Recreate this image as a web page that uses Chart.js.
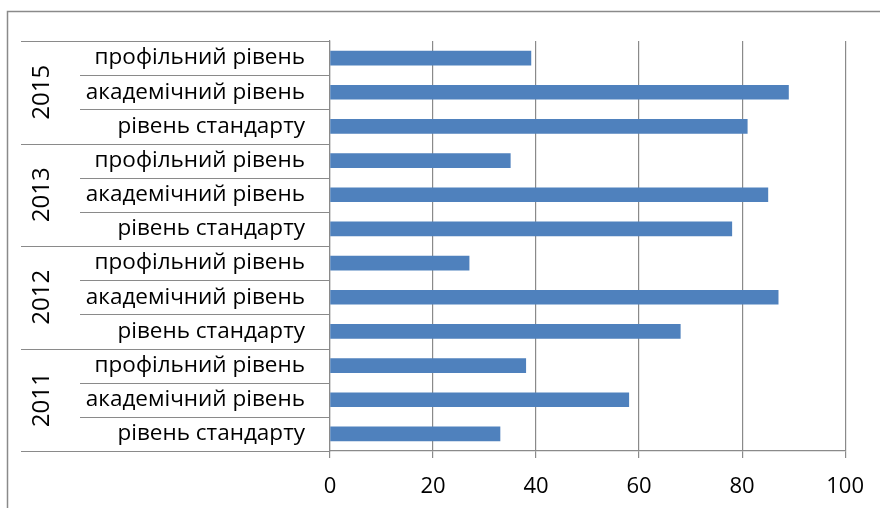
<!DOCTYPE html>
<html>
<head>
<meta charset="utf-8">
<script src="https://cdn.jsdelivr.net/npm/chart.js@4/dist/chart.umd.min.js"></script>
<style>
  html, body { margin: 0; padding: 0; background: #fff; }
  #wrap { width: 880px; height: 508px; }
</style>
</head>
<body>
<div id="wrap"><canvas id="c" width="880" height="508"></canvas></div>
<script>
// Years (groups) and levels within each year, bottom to top
const years = ['2011', '2012', '2013', '2015'];
const levels = ['рівень стандарту', 'академічний рівень', 'профільний рівень'];

// Values per year, in the same order as `levels`
const values2011 = [33, 58, 38];
const values2012 = [68, 87, 27];
const values2013 = [78, 85, 35];
const values2015 = [81, 89, 39];

const xTicks = [0, 20, 40, 60, 80, 100];

const valuesByYear = [values2011, values2012, values2013, values2015];
const labels = [];
const data = [];
years.forEach((y, yi) => {
  levels.forEach((lv, li) => {
    labels.push(lv);
    data.push(valuesByYear[yi][li]);
  });
});

const FONT = "'Open Sans', sans-serif";
const GRID = '#8a8a8a';

// Draws the outer frame, the grouped category lines and the year labels
const groupAxis = {
  id: 'groupAxis',
  beforeDraw(chart) {
    const ctx = chart.ctx;
    ctx.save();
    ctx.strokeStyle = '#8a8a8a';
    ctx.lineWidth = 1.5;
    ctx.beginPath();
    ctx.moveTo(7.5, 520);
    ctx.lineTo(7.5, 11.5);
    ctx.lineTo(900, 11.5);
    ctx.stroke();
    ctx.restore();
  },
  afterDraw(chart) {
    const ctx = chart.ctx;
    const ys = chart.scales.y;
    const axisX = chart.chartArea.left;
    const n = labels.length;
    const half = Math.abs(ys.getPixelForValue(1) - ys.getPixelForValue(0)) / 2;
    ctx.save();
    ctx.strokeStyle = GRID;
    ctx.lineWidth = 1.2;
    for (let i = 0; i <= n; i++) {
      // boundary below category i (reverse scale: index 0 at the bottom)
      let y;
      if (i === 0) y = ys.getPixelForValue(0) + half;
      else if (i === n) y = ys.getPixelForValue(n - 1) - half;
      else y = (ys.getPixelForValue(i - 1) + ys.getPixelForValue(i)) / 2;
      const x0 = (i % levels.length === 0) ? 21 : 80;
      y = Math.round(y) + 0.5;
      ctx.beginPath();
      ctx.moveTo(x0, y);
      ctx.lineTo(axisX, y);
      ctx.stroke();
    }
    ctx.fillStyle = '#000';
    ctx.font = '24px ' + FONT;
    ctx.textAlign = 'center';
    ctx.textBaseline = 'middle';
    years.forEach((yr, gi) => {
      const a = ys.getPixelForValue(gi * levels.length);
      const b = ys.getPixelForValue(gi * levels.length + levels.length - 1);
      const cy = (a + b) / 2;
      ctx.save();
      ctx.translate(42, cy);
      ctx.rotate(-Math.PI / 2);
      ctx.fillText(yr, 0, 0);
      ctx.restore();
    });
    ctx.restore();
  }
};

new Chart(document.getElementById('c'), {
  type: 'bar',
  data: {
    labels: labels,
    datasets: [{
      data: data,
      backgroundColor: '#4f81bd',
      borderWidth: 0,
      barThickness: 14
    }]
  },
  options: {
    indexAxis: 'y',
    responsive: false,
    animation: false,
    layout: { padding: { top: 41, right: 34, left: 0, bottom: 0 } },
    plugins: { legend: { display: false }, tooltip: { enabled: false } },
    scales: {
      x: {
        min: 0,
        max: 100,
        afterBuildTicks(scale) { scale.ticks = xTicks.map(v => ({ value: v })); },
        afterFit(scale) { scale.height = 57; },
        grid: { color: GRID, lineWidth: 1.2, drawTicks: true, tickLength: 7, tickColor: GRID },
        border: { display: true, color: GRID, width: 1.2 },
        ticks: { color: '#000', font: { family: FONT, size: 22 }, padding: 16, maxRotation: 0 }
      },
      y: {
        reverse: true,
        afterFit(scale) { scale.width = 330; },
        grid: { display: false, drawTicks: false },
        border: { display: true, color: GRID, width: 1.2 },
        ticks: { color: '#000', font: { family: FONT, size: 22.5 }, padding: 25, autoSkip: false }
      }
    }
  },
  plugins: [groupAxis]
});
</script>
</body>
</html>
